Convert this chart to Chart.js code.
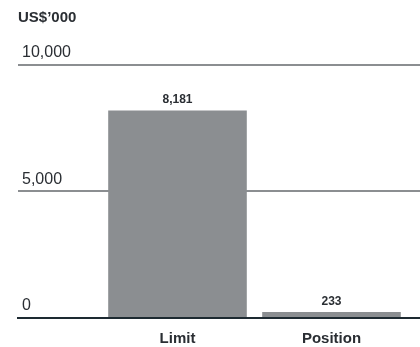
<!DOCTYPE html>
<html>
<head>
<meta charset="utf-8">
<script src="https://cdn.jsdelivr.net/npm/chart.js@4/dist/chart.umd.min.js"></script>
<style>
  html, body { margin: 0; padding: 0; background: #fff; }
  #wrap { width: 420px; height: 347px; position: relative; }
</style>
</head>
<body>
<div id="wrap"><canvas id="limitChart"></canvas></div>
<script>
// Values (US$'000)
const categories = ['Limit', 'Position'];
const amounts = [8181, 233];
const yTicks = [0, 5000, 10000];
const unitLabel = 'US$’000';

// bars sit at x = 1, 2 on a linear axis so the grid can run full width
const catPos = categories.map((c, i) => i + 1);

const TEXT = '#2a2e33';
const BAR = '#8b8e91';
const GRID = '#8b8e91';
const AXIS = '#1d2a31';
const FONT = '"Liberation Sans", Arial, Helvetica, sans-serif';

const fmt = v => v.toLocaleString('en-US');

// Bold value printed above each bar
const valueLabels = {
    id: 'valueLabels',
    afterDatasetsDraw(chart) {
        const ctx = chart.ctx;
        const meta = chart.getDatasetMeta(0);
        ctx.save();
        ctx.font = 'bold 12px ' + FONT;
        ctx.fillStyle = TEXT;
        ctx.textAlign = 'center';
        ctx.textBaseline = 'alphabetic';
        meta.data.forEach((bar, i) => {
            ctx.fillText(fmt(amounts[i]), bar.x, bar.y - 7.5);
        });
        ctx.restore();
    }
};

document.addEventListener('DOMContentLoaded', () => {
    const ctx = document.getElementById('limitChart').getContext('2d');
    new Chart(ctx, {
        type: 'bar',
        data: {
            datasets: [{
                data: catPos.map((x, i) => ({ x: x, y: amounts[i] })),
                backgroundColor: BAR,
                borderWidth: 0,
                categoryPercentage: 1,
                barPercentage: 0.9
            }]
        },
        options: {
            responsive: true,
            maintainAspectRatio: false,
            animation: false,
            events: [],
            layout: { padding: { left: 18, right: 0, top: 0, bottom: 0 } },
            plugins: {
                legend: { display: false },
                tooltip: { enabled: false },
                title: {
                    display: true,
                    text: unitLabel,
                    align: 'start',
                    color: TEXT,
                    font: { family: FONT, size: 15, weight: 'bold' },
                    padding: { top: 9, bottom: 37.5 }
                }
            },
            scales: {
                x: {
                    type: 'linear',
                    bounds: 'data',
                    offset: false,
                    min: -0.0357,
                    max: 2.5747,
                    afterBuildTicks: scale => {
                        scale.ticks = catPos.map(v => ({ value: v }));
                    },
                    afterFit: scale => {
                        scale.height = 29;
                        scale.paddingLeft = 0;
                        scale.paddingRight = 0;
                    },
                    grid: { display: false, drawTicks: false, offset: false },
                    border: { display: true, color: AXIS, width: 2 },
                    ticks: {
                        color: TEXT,
                        padding: 12,
                        maxRotation: 0,
                        font: { family: FONT, size: 15, weight: 'bold' },
                        callback: v => categories[catPos.indexOf(v)]
                    }
                },
                y: {
                    min: 0,
                    max: 10000,
                    afterBuildTicks: scale => {
                        scale.ticks = yTicks.map(v => ({ value: v }));
                    },
                    afterFit: scale => {
                        scale.width = 0;
                        scale.paddingTop = 0;
                        scale.paddingBottom = 0;
                    },
                    border: { display: false },
                    grid: {
                        drawTicks: false,
                        lineWidth: 2,
                        color: c => (c.tick && c.tick.value === 0) ? AXIS : GRID
                    },
                    ticks: {
                        mirror: true,
                        padding: 4,
                        labelOffset: -12,
                        color: TEXT,
                        font: { family: FONT, size: 16 },
                        callback: v => fmt(v)
                    }
                }
            }
        },
        plugins: [valueLabels]
    });
});
</script>
</body>
</html>
